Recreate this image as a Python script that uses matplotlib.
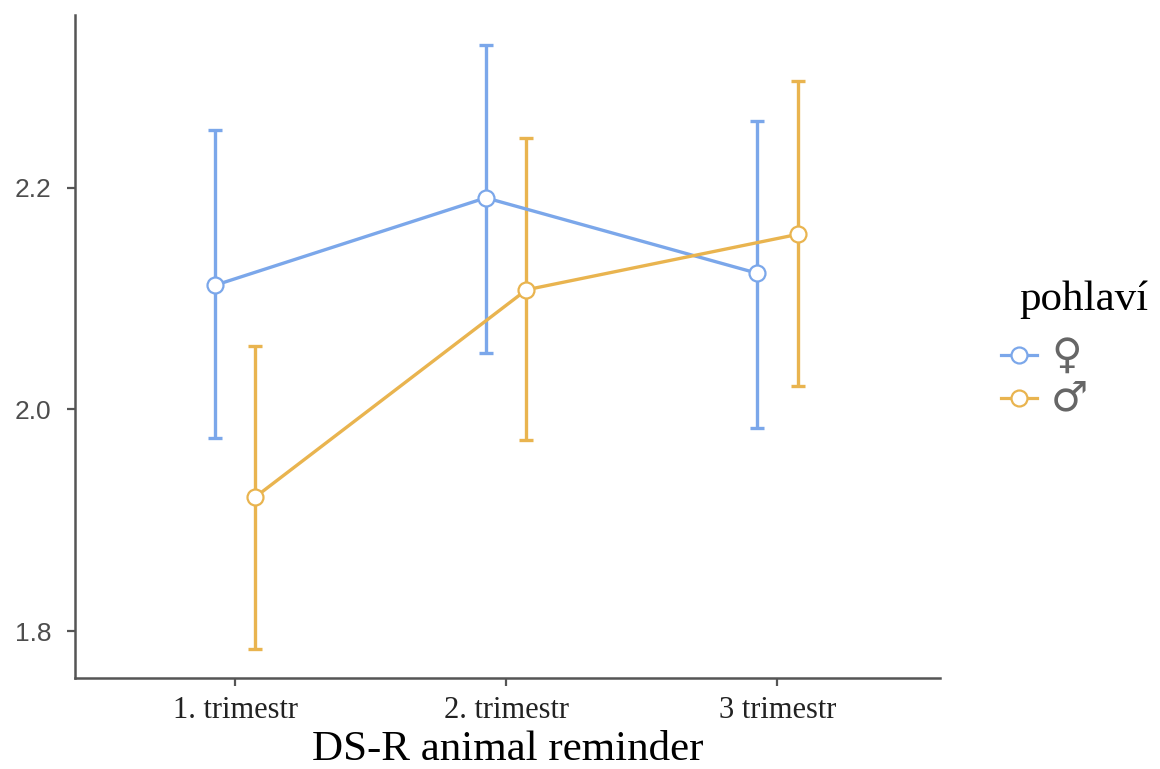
import matplotlib.pyplot as plt
import numpy as np
from matplotlib.lines import Line2D

# mean and CI per trimester, split by sex
labels = ["1. trimestr", "2. trimestr", "3 trimestr"]
female_mean = [2.112, 2.191, 2.123]
female_low = [1.974, 2.051, 1.983]
female_high = [2.252, 2.329, 2.260]
male_mean = [1.921, 2.108, 2.158]
male_low = [1.784, 1.972, 2.021]
male_high = [2.057, 2.245, 2.296]
sex_labels = ["\u2640", "\u2642"]

blue = "#7ba7ea"
orange = "#e9b44f"
grey = "#555555"

fig = plt.figure(figsize=(11.6, 7.69), dpi=100)
ax = fig.add_axes([0.0647, 0.1183, 0.7456, 0.8622])

x = np.arange(1, len(labels) + 1)
dodge = 0.075

def series(xs, m, lo, hi, col):
    m = np.array(m)
    err = [m - np.array(lo), np.array(hi) - m]
    ax.errorbar(xs, m, yerr=err, fmt="none", ecolor=col, elinewidth=2.4,
                capsize=5, capthick=2.4, zorder=2)
    ax.plot(xs, m, color=col, lw=2.4, marker="o", ms=11.5, mfc="white",
            mec=col, mew=1.6, zorder=3)

series(x - dodge, female_mean, female_low, female_high, blue)
series(x + dodge, male_mean, male_low, male_high, orange)

ax.set_xlim(0.41, 3.6)
ax.set_ylim(1.7576, 2.356)
ax.set_yticks([1.8, 2.0, 2.2])
ax.set_yticklabels(["1.8", "2.0", "2.2"], fontsize=19, color="#4d4d4d",
                   family="Liberation Sans")
ax.set_xticks(x)
ax.set_xticklabels(labels, fontsize=22, family="Liberation Serif",
                   color="#222222")
ax.set_xlabel("DS-R animal reminder", fontsize=31, family="Liberation Serif",
              labelpad=4)

for s in ["top", "right"]:
    ax.spines[s].set_visible(False)
for s in ["left", "bottom"]:
    ax.spines[s].set_color(grey)
    ax.spines[s].set_linewidth(1.8)
ax.tick_params(color=grey, width=1.6, length=6)
ax.tick_params(axis="x", pad=7)
ax.tick_params(axis="y", pad=11)

# legend drawn by hand in figure coords
fig.text(0.879, 0.61, "pohlaví", fontsize=31, family="Liberation Serif",
         va="center", ha="left")
for yk, col, lab in zip([0.538, 0.482], [blue, orange], sex_labels):
    fig.add_artist(Line2D([0.863, 0.894], [yk, yk], color=col, lw=2.3,
                          transform=fig.transFigure))
    fig.add_artist(Line2D([0.8785], [yk], color=col, marker="o", ms=11.5,
                          mfc="white", mec=col, mew=1.6,
                          transform=fig.transFigure))
    fig.text(0.906, yk, lab, fontsize=30, family="DejaVu Sans",
             va="center", ha="left", color="#666666")

fig.savefig("out.png", dpi=100)
